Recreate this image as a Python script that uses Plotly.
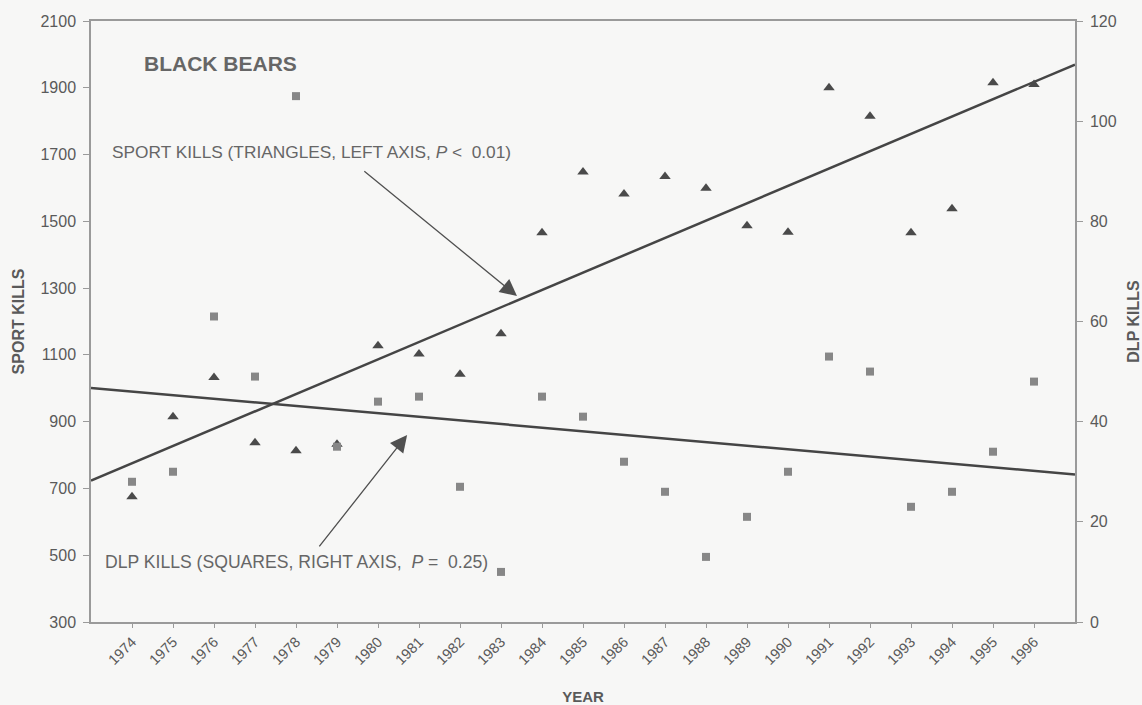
import numpy as np
import plotly.graph_objects as go

# data
years = list(range(1974, 1997))
sport_kills = [675, 915, 1032, 837, 813, 832, 1127, 1103, 1042, 1163, 1466, 1648,
               1582, 1634, 1599, 1487, 1467, 1900, 1815, 1466, 1538, 1915, 1910]
dlp_kills = [28, 30, 61, 49, 105, 35, 44, 45, 27, 10, 45, 41,
             32, 26, 13, 21, 30, 53, 50, 23, 26, 34, 48]
year_labels = [str(y) for y in years]
fit_span = [1973, 1997]

TXT = "#5a5a5a"
AX = "#9a9a9a"
BG = "#f7f7f6"
FONT = "Liberation Sans, Arial, sans-serif"

# least squares trend lines, drawn across the full x range
sport_fit = np.polyval(np.polyfit(years, sport_kills, 1), fit_span)
dlp_fit = np.polyval(np.polyfit(years, dlp_kills, 1), fit_span)

fig = go.Figure()

fig.add_trace(go.Scatter(
    x=fit_span, y=sport_fit, mode="lines",
    line=dict(color="#454545", width=2.5), yaxis="y", hoverinfo="skip"
))
fig.add_trace(go.Scatter(
    x=years, y=sport_kills, mode="markers", name="Sport kills",
    marker=dict(symbol="triangle-up", size=10, color="#4a4a4a"), yaxis="y"
))
fig.add_trace(go.Scatter(
    x=fit_span, y=dlp_fit, mode="lines",
    line=dict(color="#454545", width=2.5), yaxis="y2", hoverinfo="skip"
))
fig.add_trace(go.Scatter(
    x=years, y=dlp_kills, mode="markers", name="DLP kills",
    marker=dict(symbol="square", size=8, color="#878787"), yaxis="y2"
))

axis_common = dict(
    showgrid=False, zeroline=False, showline=True, linecolor=AX, linewidth=1.5,
    ticks="outside", ticklen=6, tickcolor=AX, tickwidth=1.2,
    tickfont=dict(size=16, color=TXT, family=FONT), automargin=False,
)

fig.update_layout(
    width=1142, height=705,
    margin=dict(l=91, r=67, t=21, b=83),
    paper_bgcolor=BG, plot_bgcolor=BG,
    font=dict(family=FONT, color=TXT),
    showlegend=False,
    xaxis=dict(
        **{**axis_common, "tickfont": dict(size=14.5, color=TXT, family=FONT), "ticklen": 4},
        mirror=True, range=fit_span,
        tickvals=years, ticktext=year_labels, tickangle=-45,
        title=dict(text="<b>YEAR</b>", font=dict(size=15, color=TXT), standoff=28),
    ),
    yaxis=dict(
        **axis_common, range=[300, 2100], tick0=300, dtick=200, ticklabelstandoff=4,
        title=dict(text="<b>SPORT KILLS</b>", font=dict(size=16, color=TXT), standoff=12),
    ),
    yaxis2=dict(
        **axis_common, overlaying="y", side="right", range=[0, 120], dtick=20,
        ticklabelstandoff=4,
        title=dict(text="<b>DLP KILLS</b>", font=dict(size=16, color=TXT), standoff=18),
    ),
)

nb = "\u00a0"
fig.add_annotation(
    xref="paper", yref="paper", x=0.052, y=0.93, xanchor="left", yanchor="middle",
    text="<b>BLACK BEARS</b>", showarrow=False, font=dict(size=21, color="#666666")
)
fig.add_annotation(
    xref="paper", yref="paper", x=0.019, y=0.782, xanchor="left", yanchor="middle",
    text=f"SPORT KILLS (TRIANGLES, LEFT AXIS, <i>P</i> &lt;{nb}{nb}0.01)",
    showarrow=False, font=dict(size=17.3, color="#666666")
)
fig.add_annotation(
    xref="paper", yref="paper", x=0.012, y=0.1, xanchor="left", yanchor="middle",
    text=f"DLP KILLS (SQUARES, RIGHT AXIS, {nb}<i>P</i> ={nb}{nb}0.25)",
    showarrow=False, font=dict(size=17.6, color="#666666")
)

# pointer arrows
for tip, tail in [((1983.39, 1276), (1979.63, 1654)), ((1980.71, 860), (1978.54, 522))]:
    fig.add_annotation(
        x=tip[0], y=tip[1], ax=tail[0], ay=tail[1],
        xref="x", yref="y", axref="x", ayref="y",
        text="", showarrow=True, arrowhead=2, arrowsize=2.6, arrowwidth=1.3,
        arrowcolor="#505050"
    )

fig.write_html(
    "out.html",
    config={"displayModeBar": False},
    post_script=f"document.body.style.margin='0';document.body.style.background='{BG}';",
)
